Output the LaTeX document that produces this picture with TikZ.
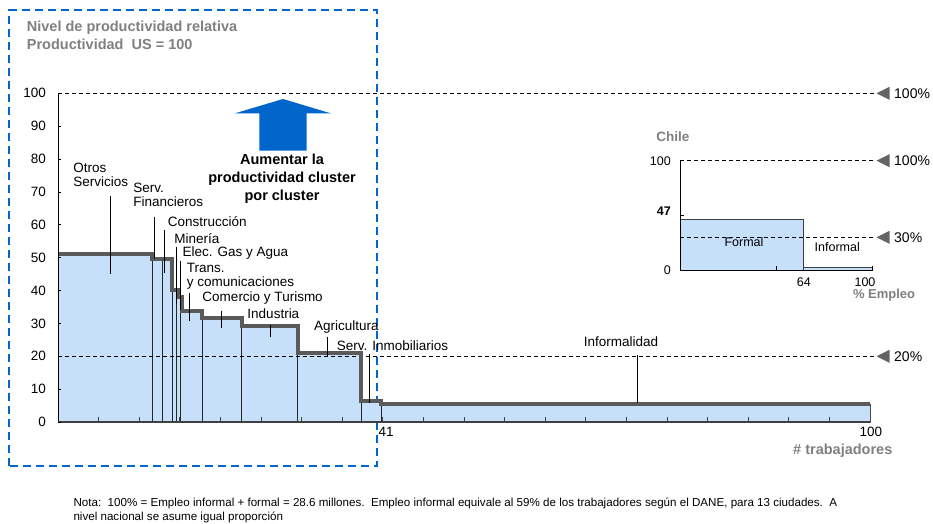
\documentclass[tikz,border=0pt]{standalone}
\usepackage{fontspec}
\setmainfont{Liberation Sans}
\definecolor{barfill}{RGB}{198,224,250}
\definecolor{stepgray}{RGB}{90,90,90}
\definecolor{markgray}{RGB}{100,100,100}
\definecolor{titlegray}{RGB}{128,128,128}
\definecolor{clusterblue}{RGB}{0,102,204}

\begin{document}
\begin{tikzpicture}[x=1pt,y=1pt,every node/.style={align=center,inner sep=0pt},
	lbl/.style={anchor=west,align=left,font=\fontsize{13.5}{14}\selectfont},
	num/.style={font=\fontsize{13.5}{14}\selectfont},
	inum/.style={font=\fontsize{12.5}{14}\selectfont},
	pct/.style={anchor=west,font=\fontsize{14}{16}\selectfont},
	gtxt/.style={text=titlegray,font=\bfseries\fontsize{14.5}{16}\selectfont},
	leader/.style={black,line width=0.8pt},
	divider/.style={black!85,line width=0.7pt},
	ref/.style={dash pattern=on 4pt off 3pt,line width=0.7pt}]
	\useasboundingbox (0,0) rectangle (933,523);
	
	\node[anchor=west,align=left,text=titlegray,font=\bfseries\fontsize{14.5}{18}\selectfont](titulo)at(26.7,488){Nivel de productividad relativa\\Productividad\ \ US = 100};
	\draw[clusterblue,line width=2pt,dash pattern=on 8pt off 5pt](9.3,57.3)rectangle(377,513);
	
	% grafico principal
	\begin{scope}[shift={(58pt,101pt)},x=8.12pt,y=3.287pt]
		\filldraw[fill=barfill,draw=black!70,line width=0.6pt](0,0)--(0,51)--(11.6,51)--(11.6,49.7)--(14.04,49.7)--(14.04,40.3)--(14.74,40.3)--(14.74,37.9)--(15.23,37.9)--(15.23,33.7)--(17.73,33.7)--(17.73,31.5)--(22.62,31.5)--(22.62,29.2)--(29.52,29.2)--(29.52,21.1)--(37.32,21.1)--(37.32,6.4)--(39.78,6.4)--(39.78,5.5)--(100,5.5)--(100,0)--cycle;
		\foreach \x/\h in{11.6/49.7,12.85/49.7,14.04/40.3,14.6/37.9,15.05/33.7,17.73/31.5,22.62/29.2,29.52/21.1,37.32/6.4,39.78/5.5}
		\draw[divider](\x,0)--(\x,\h);
		\draw[ref](0,100)--(100.5,100);
		\draw[ref](0,20)--(100.5,20);
		\draw[stepgray,line width=4pt](0,51)--(11.6,51)--(11.6,49.7)--(14.04,49.7)--(14.04,40.3)--(14.74,40.3)--(14.74,37.9)--(15.23,37.9)--(15.23,33.7)--(17.73,33.7)--(17.73,31.5)--(22.62,31.5)--(22.62,29.2)--(29.52,29.2)--(29.52,21.1)--(37.32,21.1)--(37.32,6.4)--(39.78,6.4)--(39.78,5.5)--(100,5.5);
		\draw[black,line width=0.7pt](0,100)--(0,0);
		\draw[black!75,line width=1.2pt](0,0)--(100,0);
		\foreach \v in{0,10,...,100}
		{\draw[black,line width=0.7pt](0,\v)--++(3pt,0);
			\node[num,anchor=east](y\v)at(-1.48,\v){\v};}
		\foreach \x in{5,10,...,95}
		\draw[black!75,line width=0.7pt](\x,0)--++(0,5pt);
		\node[num](x41)at(40.4,-2.95){41};
		\node[num](x100)at(100.1,-2.95){100};
		\node[gtxt](trab)at(96.65,-8.73){\# trabajadores};
		
		\node[lbl](otros)at(1.88,75.3){Otros\\Servicios};
		\node[lbl](finan)at(9.27,69.1){Serv.\\Financieros};
		\node[lbl](constr)at(13.5,60.9){Construcción};
		\node[lbl](mineria)at(14.32,55.7){Minería};
		\node[lbl](elec)at(15.31,51.5){Elec. Gas y Agua};
		\node[lbl](trans)at(15.85,44.3){Trans.\\y comunicaciones};
		\node[lbl](comercio)at(17.77,37.8){Comercio y Turismo};
		\node[lbl](industria)at(23.31,32.9){Industria};
		\node[lbl](agri)at(31.53,28.8){Agricultura};
		\node[lbl](inmob)at(34.32,23.2){Serv. Inmobiliarios};
		\node[lbl,anchor=center](infor)at(69.33,24.4){Informalidad};
		\foreach \n/\x/\a/\b in{otros/6.44/68.8/45.0,finan/11.86/62.5/49.7,constr/13.09/58.4/45.4,mineria/14.62/53.3/35.9,elec/15.11/49.0/34.1,trans/16.13/39.3/30.8,comercio/20.16/33.9/28.5,industria/26.1/29.5/26.0,agri/33.2/26.0/20.1,inmob/38.34/20.7/5.7,infor/71.4/20.4/5.7}
		{\coordinate(\n-t)at(\x,\a);
			\coordinate(\n-b)at(\x,\b);
			\draw[leader](\n-t)--(\n-b);}
	\end{scope}
	
	% flecha
	\fill[clusterblue](259.3,372.3)--(259.3,409.7)--(235,409.7)--(283,424)--(330.7,409.7)--(306.7,409.7)--(306.7,372.3)--cycle;
	\node[font=\bfseries\fontsize{14.5}{18}\selectfont](meta)at(282,344.2){Aumentar la\\productividad cluster\\por cluster};
	
	% Chile
	\begin{scope}[shift={(680pt,253pt)},x=1.927pt,y=1.093pt]
		\filldraw[fill=barfill,draw=black!75,line width=0.7pt](0,0)rectangle(64,46);
		\filldraw[fill=barfill,draw=black!75,line width=0.7pt](64,0)rectangle(100,2.7);
		\draw[ref](0,100)--(100.5,100);
		\draw[ref](0,30)--(100.5,30);
		\draw[black,line width=0.7pt](0,100)--(0,0)--(100,0);
		\draw[black,line width=0.7pt](0,49.7)--++(4pt,0);
		\draw[black,line width=0.7pt](49.8,0)--++(0,4pt);
		\draw[black,line width=0.7pt](100,0)--++(0,4pt);
		\node[gtxt,font=\bfseries\fontsize{13.5}{16}\selectfont](chile)at(-3.7,122.3){Chile};
		\node[inum,anchor=east](c100)at(-4.7,100){100};
		\node[inum,anchor=east,font=\bfseries\fontsize{12.5}{14}\selectfont](c47)at(-4.7,54){47};
		\node[inum,anchor=east](c0)at(-4.7,0){0};
		\node[inum](formal)at(33.2,25.3){Formal};
		\node[inum](informal)at(81.6,21.3){Informal};
		\node[inum](p64)at(64.3,-10.7){64};
		\node[inum](p100)at(96,-10.7){100};
		\node[gtxt,font=\bfseries\fontsize{13}{16}\selectfont](empleo)at(105.9,-22.6){\% Empleo};
	\end{scope}
	
	% marcas
	\foreach \y/\t[count=\i] in{429.7/100,166.7/20,362.3/100,285.7/30}
	{\fill[markgray](876.5,\y)--(889.5,\y+6.5)--(889.5,\y-6.5)--cycle;
		\node[pct](m\i)at(894,\y){\t\%};}
	
	\node[anchor=west,align=left,font=\fontsize{11.6}{13.8}\selectfont](nota)at(73.3,12.6){Nota:\ \ 100\% = Empleo informal + formal = 28.6 millones.\ \ Empleo informal equivale al 59\% de los trabajadores según el DANE, para 13 ciudades.\ \ A\\nivel nacional se asume igual proporción};
\end{tikzpicture}
\end{document}
